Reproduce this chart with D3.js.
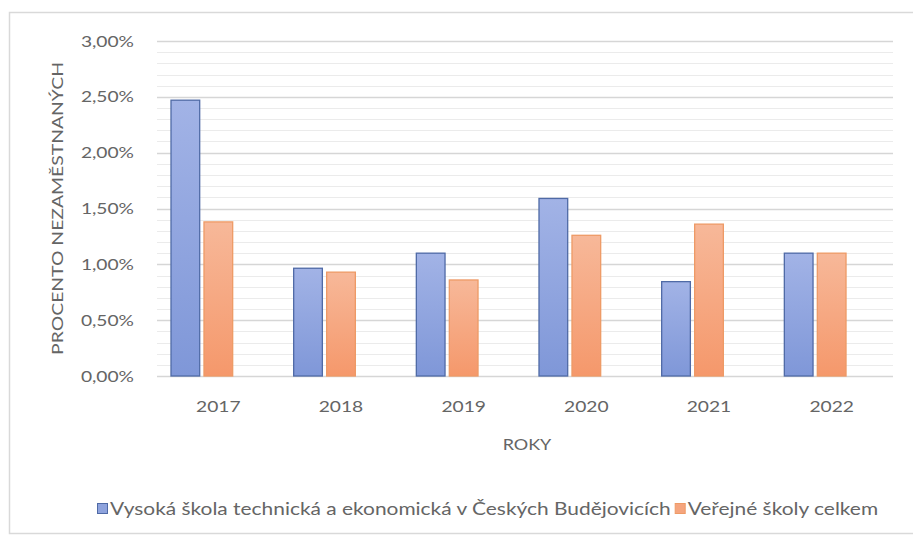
<!DOCTYPE html>
<html><head><meta charset="utf-8">
<script src="https://cdn.jsdelivr.net/npm/d3@7"></script>
<style>
html,body{margin:0;padding:0;background:#fff;}
svg{display:block;}
text{font-family:Lato,"Open Sans",sans-serif;fill:#656565;}
</style></head>
<body>
<svg id="chart" width="913" height="538"></svg>
<script>
const categories = ["2017","2018","2019","2020","2021","2022"];
const seriesNames = ["Vysoká škola technická a ekonomická v Českých Budějovicích","Veřejné školy celkem"];
const vsteValues = [0.0247,0.00965,0.0110,0.0159,0.00845,0.0110];
const verejneValues = [0.0138,0.0093,0.0086,0.0126,0.0136,0.0110];
const yTicks = [0,0.005,0.01,0.015,0.02,0.025,0.03];
const yMinorTicks = d3.range(0,31).map(i=>i/1000);
const yTitle = "PROCENTO NEZAMĚSTNANÝCH";
const xTitle = "ROKY";

const svg = d3.select("#chart");
const pLeft = 157, pRight = 893, pTop = 41, pBottom = 376;
const SX = 1.2; // horizontal stretch of the text, as in the (stretched) original

// chart area border
svg.append("rect").attr("x",9.5).attr("y",12.5).attr("width",920).attr("height",521)
  .attr("fill","#fff").attr("stroke","#d9d9d9").attr("stroke-width",1.5);

const defs = svg.append("defs");
const g1 = defs.append("linearGradient").attr("id","gBlue").attr("x1",0).attr("y1",0).attr("x2",0).attr("y2",1);
g1.append("stop").attr("offset","0%").attr("stop-color","#a2b3e6");
g1.append("stop").attr("offset","100%").attr("stop-color","#7f97d8");
const g2 = defs.append("linearGradient").attr("id","gOrange").attr("x1",0).attr("y1",0).attr("x2",0).attr("y2",1);
g2.append("stop").attr("offset","0%").attr("stop-color","#f7b899");
g2.append("stop").attr("offset","100%").attr("stop-color","#f5986b");

const fills = ["url(#gBlue)","url(#gOrange)"];
const strokes = ["#4f6aa6","#ee9a66"];
const legendFills = ["#8ea3dd","#f5a57e"];

const y = d3.scaleLinear().domain([0,0.03]).range([pBottom,pTop]);
const x0 = d3.scaleBand().domain(categories).range([pLeft,pRight]).padding(0);
// three slots per category (third one is an empty series slot, as in the original)
const x1 = d3.scaleBand().domain(["a","b","c"]).range([14,x0.bandwidth()-14]).paddingInner(0.13);

// minor gridlines
svg.append("g").selectAll("line").data(yMinorTicks.filter(t=>Math.round(t*1000)%5!==0)).join("line")
  .attr("x1",pLeft).attr("x2",pRight).attr("y1",d=>Math.round(y(d))+0.5).attr("y2",d=>Math.round(y(d))+0.5)
  .attr("stroke","#ebebeb").attr("stroke-width",1);
// major gridlines
svg.append("g").selectAll("line").data(yTicks).join("line")
  .attr("x1",pLeft).attr("x2",pRight).attr("y1",d=>Math.round(y(d))+0.5).attr("y2",d=>Math.round(y(d))+0.5)
  .attr("stroke","#d6d6d6").attr("stroke-width",1.3);

// y axis labels
const fmt = d => (d*100).toFixed(2).replace(".",",")+"%";
svg.append("g").selectAll("text").data(yTicks).join("text")
  .attr("transform",d=>`translate(134,${y(d)}) scale(${SX},1)`)
  .attr("dy","0.35em").attr("text-anchor","end")
  .attr("font-size",16).text(fmt);

// bars
const data = [vsteValues, verejneValues];
const slots = ["a","b"];
data.forEach((vals,si)=>{
  svg.append("g").selectAll("rect").data(categories).join("rect")
    .attr("x",c=>x0(c)+x1(slots[si]))
    .attr("y",(c,i)=>y(vals[i]))
    .attr("width",x1.bandwidth())
    .attr("height",(c,i)=>y(0)-y(vals[i]))
    .attr("fill",fills[si]).attr("stroke",strokes[si]).attr("stroke-width",1.3);
});

// x labels
svg.append("g").selectAll("text").data(categories).join("text")
  .attr("transform",c=>`translate(${x0(c)+x0.bandwidth()/2},412) scale(${SX},1)`)
  .attr("text-anchor","middle")
  .attr("font-size",16).text(c=>c);

svg.append("text").attr("transform",`translate(${(pLeft+pRight)/2+2},450) scale(${SX},1)`)
  .attr("text-anchor","middle").attr("font-size",15).text(xTitle);

svg.append("text").attr("transform",`translate(63,${(pTop+pBottom)/2}) rotate(-90) scale(1.25,1)`)
  .attr("text-anchor","middle").attr("font-size",15.5).text(yTitle);

// legend
const LSX = 1.23;
const lg = svg.append("g");
let lx = 97;
seriesNames.forEach((n,i)=>{
  lg.append("rect").attr("x",lx+0.5).attr("y",503.5).attr("width",10).attr("height",10)
    .attr("fill",legendFills[i]).attr("stroke",strokes[i]).attr("stroke-width",1);
  const t = lg.append("text").attr("transform",`translate(${lx+13},515) scale(${LSX},1)`)
    .attr("font-size",17).text(n);
  lx += 13 + t.node().getComputedTextLength()*LSX + 4;
});
</script>
</body></html>
